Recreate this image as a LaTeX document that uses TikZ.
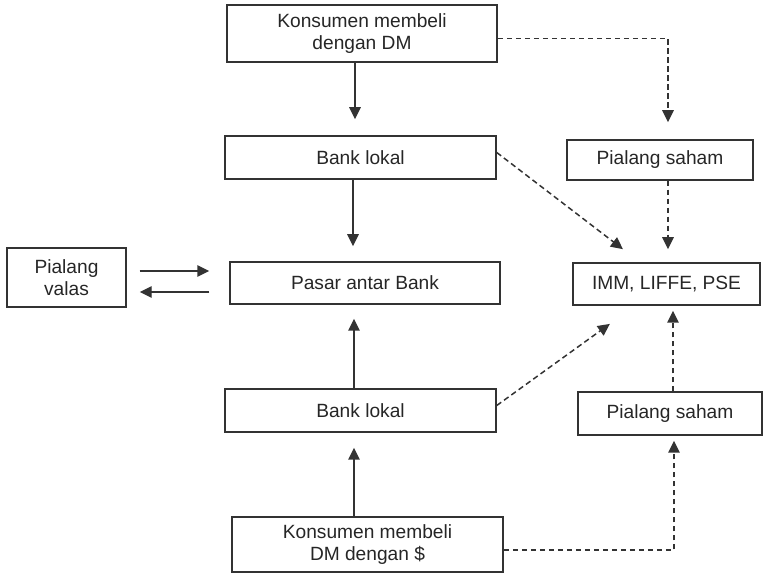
\documentclass[tikz,border=0pt]{standalone}
\usepackage{fontspec}
\setmainfont{Liberation Sans}
\usetikzlibrary{arrows.meta,calc,positioning}

\begin{document}
\begin{tikzpicture}[
    >={Triangle[length=2.4mm,width=2.3mm]},
    line width=0.85pt,
    every node/.style={font=\fontsize{10.9}{12.6}\selectfont, text=black!85},
    box/.style={
        draw=black!80,
        rectangle,
        align=center,
        inner sep=0pt
    },
    flow/.style={->, draw=black!80},
    dflow/.style={->, draw=black!80, dash pattern=on 1.1mm off 0.7mm}
]
\useasboundingbox (0,0) rectangle (15.3,-11.5);

%------------------------------------------------
% Nodes
%------------------------------------------------
\node[box, minimum width=5.40cm, minimum height=1.14cm] (kdm)    at (7.24,-0.67)  {Konsumen membeli\\dengan DM};
\node[box, minimum width=5.42cm, minimum height=0.86cm] (bankA)  at (7.21,-3.15)  {Bank lokal};
\node[box, minimum width=5.40cm, minimum height=0.84cm] (pasar)  at (7.30,-5.66)  {Pasar antar Bank};
\node[box, minimum width=5.42cm, minimum height=0.86cm] (bankB)  at (7.21,-8.21)  {Bank lokal};
\node[box, minimum width=5.42cm, minimum height=1.10cm] (kusd)   at (7.35,-10.89) {Konsumen membeli\\DM dengan \$};

\node[box, minimum width=2.38cm, minimum height=1.18cm] (valas)  at (1.33,-5.55)  {Pialang\\valas};

\node[box, minimum width=3.72cm, minimum height=0.80cm] (sahamA) at (13.20,-3.20) {Pialang saham};
\node[box, minimum width=3.74cm, minimum height=0.84cm] (imm)    at (13.33,-5.68) {IMM, LIFFE, PSE};
\node[box, minimum width=3.68cm, minimum height=0.86cm] (sahamB) at (13.40,-8.27) {Pialang saham};

%------------------------------------------------
% Solid arrows
%------------------------------------------------
\draw[flow, shorten >=0.32cm] ([xshift=-1.4mm]kdm.south) -- ([xshift=-1.4mm]kdm.south |- bankA.north);
\draw[flow, shorten >=0.30cm] ([xshift=-1.5mm]bankA.south) -- ([xshift=-1.5mm]bankA.south |- pasar.north);
\draw[flow, shorten >=0.28cm] ([xshift=-1.3mm]bankB.north) -- ([xshift=-1.3mm]bankB.north |- pasar.south);
\draw[flow, shorten >=0.30cm] ([xshift=-2.7mm]kusd.north) -- ([xshift=-2.7mm]kusd.north |- bankB.south);

\draw[flow, shorten <=0.26cm, shorten >=0.40cm]
    ([yshift=1.3mm]valas.east) -- ([yshift=1.3mm]valas.east -| pasar.west);
\draw[flow, shorten <=0.40cm, shorten >=0.26cm]
    ([yshift=-2.9mm]valas.east -| pasar.west) -- ([yshift=-2.9mm]valas.east);

%------------------------------------------------
% Dashed arrows
%------------------------------------------------
\draw[dflow, shorten >=0.34cm] ([yshift=-1mm]kdm.east) -| ([xshift=1.6mm]sahamA.north);
\draw[dflow, shorten >=0.26cm] ([xshift=1.6mm]sahamA.south) -- ([xshift=1.6mm]sahamA.south |- imm.north);
\draw[dflow, shorten >=0.43cm] ([yshift=1mm]bankA.east) -- ([xshift=-5.3mm]imm.north);

\draw[dflow, shorten >=0.62cm] ([yshift=1mm]bankB.east) -- ([xshift=-6.3mm]imm.south);
\draw[dflow, shorten >=0.10cm] ([yshift=-1.1mm]kusd.east) -| ([xshift=0.8mm]sahamB.south);
\draw[dflow, shorten >=0.10cm] ([xshift=0.6mm]sahamB.north) -- ([xshift=0.6mm]sahamB.north |- imm.south);

\end{tikzpicture}
\end{document}
